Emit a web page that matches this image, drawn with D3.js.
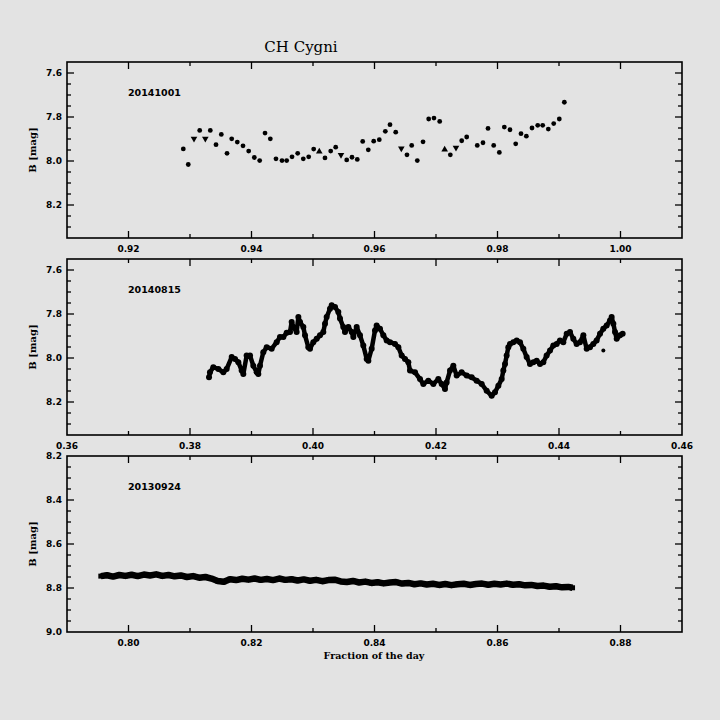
<!DOCTYPE html>
<html><head><meta charset="utf-8">
<script src="https://cdn.jsdelivr.net/npm/d3@7"></script>
<style>html,body{margin:0;padding:0;background:#e3e3e3;} svg{display:block}</style>
</head><body>
<script>
// ---------- data ----------
const title = "CH Cygni";
const xTitle = "Fraction of the day";
const yTitle = "B [mag]";
const dates = ["20141001", "20140815", "20130924"];
const xDomains = [[0.91, 1.01], [0.36, 0.46], [0.79, 0.89]];
const yDomains = [[7.55, 8.35], [7.55, 8.35], [8.2, 9.0]];
const xTickLabels = [[0.92, 0.94, 0.96, 0.98, 1.00], [0.36, 0.38, 0.40, 0.42, 0.44, 0.46], [0.80, 0.82, 0.84, 0.86, 0.88]];
const yTickLabels = [[7.6, 7.8, 8.0, 8.2], [7.6, 7.8, 8.0, 8.2], [8.2, 8.4, 8.6, 8.8, 9.0]];

// 20141001
const t1 = [0.92891,0.92972,0.93065,0.93158,0.93249,0.93330,0.93423,0.93509,0.93602,0.93678,0.93769,0.93862,0.93954,0.94046,0.94133,0.94220,0.94306,0.94398,0.94496,0.94572,0.94659,0.94751,0.94842,0.94930,0.95011,0.95102,0.95195,0.95288,0.95369,0.95455,0.95548,0.95634,0.95720,0.95808,0.95899,
0.95987,0.96078,0.96176,0.96252,0.96345,0.96436,0.96528,0.96605,0.96696,0.96789,0.96881,0.96967,0.97060,0.97141,0.97233,0.97325,0.97418,0.97499,0.97671,0.97764,0.97846,0.97938,0.98030,0.98111,0.98203,0.98296,0.98382,0.98469,0.98561,0.98654,0.98735,0.98826,0.98914,0.99005,0.99087];
const m1 = [7.945,8.016,7.899,7.861,7.899,7.861,7.926,7.879,7.965,7.899,7.914,7.931,7.955,7.984,7.998,7.873,7.899,7.990,7.998,7.998,7.981,7.965,7.990,7.981,7.946,7.957,7.986,7.955,7.937,7.972,7.995,7.983,7.993,7.911,7.949,
7.910,7.903,7.865,7.835,7.869,7.943,7.972,7.929,7.998,7.913,7.809,7.805,7.820,7.948,7.972,7.939,7.908,7.891,7.929,7.917,7.852,7.929,7.961,7.846,7.858,7.922,7.876,7.887,7.850,7.838,7.838,7.855,7.830,7.809,7.733];
const k1 = "oovovoooooooooooooooooooo^ooovoooooooooovooooooo^ovooooooooooooooooooo";

// 20140815
const t2 = [0.38309,0.38325,0.38379,0.38461,0.38542,0.38596,0.38678,0.38732,0.38786,0.38840,0.38867,0.38921,0.38976,0.39030,0.39084,0.39111,0.39138,0.39192,0.39247,0.39328,0.39409,0.39463,0.39518,0.39572,0.39626,0.39653,0.39680,0.39734,0.39762,0.39789,0.39843,0.39870,0.39924,0.39951,0.40005,0.40060,0.40114,0.40168,0.40195,0.40222,0.40276,0.40304,0.40358,0.40412,0.40439,0.40493,0.40520,0.40575,0.40629,0.40656,0.40710,0.40764,0.40818,0.40873,0.40900,0.40954,0.41008,0.41035,0.41089,0.41144,0.41198,0.41252,
0.41333,0.41388,0.41442,0.41496,0.41550,0.41577,0.41659,0.41740,0.41794,0.41875,0.41957,0.42038,0.42092,0.42146,0.42173,0.42228,0.42282,0.42336,0.42417,0.42499,0.42580,0.42661,0.42743,0.42824,0.42905,0.42959,0.43014,0.43068,0.43095,0.43122,0.43149,0.43176,0.43203,0.43257,0.43312,0.43366,0.43420,0.43474,0.43528,0.43583,0.43637,0.43691,0.43745,0.43799,0.43854,0.43908,0.43962,0.44016,0.44070,0.44125,0.44179,0.44233,0.44287,0.44341,0.44396,0.44450,0.44504,0.44558,0.44612,0.44667,0.44721,0.44775,0.44829,0.44856,0.44884,0.44911,0.44938,0.44992,0.45035];
const m2 = [8.088,8.065,8.042,8.050,8.065,8.050,7.996,8.004,8.019,8.057,8.073,7.989,7.989,8.035,8.065,8.073,8.035,7.974,7.951,7.958,7.928,7.905,7.905,7.885,7.882,7.836,7.859,7.882,7.814,7.836,7.859,7.897,7.951,7.958,7.928,7.913,7.897,7.882,7.844,7.814,7.776,7.760,7.768,7.791,7.821,7.859,7.882,7.859,7.882,7.905,7.859,7.897,7.943,8.004,8.012,7.958,7.875,7.852,7.867,7.897,7.920,7.928,
7.936,7.951,7.989,8.004,8.019,8.057,8.065,8.096,8.118,8.103,8.118,8.096,8.118,8.141,8.111,8.057,8.035,8.080,8.065,8.080,8.088,8.103,8.118,8.149,8.172,8.156,8.126,8.096,8.057,8.027,7.989,7.951,7.936,7.928,7.920,7.928,7.958,7.996,8.027,8.019,8.012,8.027,8.019,7.989,7.966,7.943,7.936,7.920,7.928,7.890,7.882,7.913,7.936,7.928,7.897,7.958,7.951,7.936,7.920,7.890,7.867,7.852,7.829,7.814,7.844,7.882,7.913,7.897,7.890];
const t2extra = [0.44721];
const m2extra = [7.966];

// 20130924
const t3 = [0.7955,0.7965,0.7975,0.7985,0.7995,0.8005,0.8015,0.8025,0.8035,0.8045,0.8055,0.8065,0.8075,0.8085,0.8095,0.8105,0.8115,0.8125,0.8135,0.8145,0.8155,0.8165,0.8175,0.8185,0.8195,0.8205,0.8215,0.8225,0.8235,0.8245,0.8255,0.8265,0.8275,0.8285,0.8295,0.8305,0.8315,0.8325,0.8335,0.8345,0.8355,0.8365,0.8375,0.8385,0.8395,0.8405,0.8415,0.8425,0.8435,0.8445,0.8455,0.8465,0.8475,0.8485,0.8495,0.8505,0.8515,0.8525,0.8535,0.8545,0.8555,0.8565,0.8575,0.8585,0.8595,0.8605,0.8615,0.8625,0.8635,0.8645,0.8655,0.8665,0.8675,0.8685,0.8695,0.8705,0.8715,0.8722];
const m3 = [8.746,8.742,8.748,8.741,8.745,8.740,8.746,8.739,8.743,8.738,8.745,8.741,8.747,8.743,8.750,8.746,8.753,8.750,8.757,8.768,8.772,8.760,8.764,8.758,8.762,8.757,8.763,8.759,8.764,8.757,8.763,8.760,8.766,8.761,8.767,8.763,8.769,8.764,8.762,8.770,8.773,8.768,8.775,8.771,8.777,8.774,8.779,8.775,8.773,8.780,8.777,8.783,8.779,8.784,8.781,8.786,8.782,8.787,8.783,8.781,8.786,8.782,8.780,8.785,8.781,8.784,8.780,8.785,8.783,8.788,8.786,8.791,8.789,8.794,8.792,8.797,8.795,8.799];

// ---------- layout ----------
const W = 720, H = 720;
const L = 67, R = 682, PH = 176;
const tops = [62, 259, 456];
const bg = "#e3e3e3";

const svg = d3.select("body").append("svg").attr("width", W).attr("height", H);
svg.append("rect").attr("width", W).attr("height", H).attr("fill", bg);

svg.append("text").attr("x", 301).attr("y", 52).attr("text-anchor", "middle")
  .attr("font-family", "DejaVu Serif").attr("font-size", 15).attr("fill", "#000")
  .attr("xml:space", "preserve").text(title);

const series = [
  {t: t1, m: m1, kind: "sparse"},
  {t: t2, m: m2, kind: "dense"},
  {t: t3, m: m3, kind: "band"}
];

series.forEach((s, i) => {
  const top = tops[i];
  const x = d3.scaleLinear().domain(xDomains[i]).range([L, R]);
  const y = d3.scaleLinear().domain(yDomains[i]).range([top, top + PH]);
  const g = svg.append("g");

  const xMinor = d3.range(Math.round(xDomains[i][0] * 100) + 1, Math.round(xDomains[i][1] * 100)).map(v => v / 100);
  const yMinor = d3.range(Math.round(yDomains[i][0] * 20), Math.round(yDomains[i][1] * 20) + 1).map(v => v / 20);
  const isMajorX = v => xTickLabels[i].some(t => Math.abs(t - v) < 1e-6);
  const isMajorY = v => yTickLabels[i].some(t => Math.abs(t - v) < 1e-6);
  const tk = g.append("g").attr("stroke", "#000").attr("stroke-width", 1.3);
  xMinor.forEach(v => {
    const len = isMajorX(v) ? 7 : 4;
    const px = x(v);
    tk.append("line").attr("x1", px).attr("x2", px).attr("y1", top + PH).attr("y2", top + PH - len);
    tk.append("line").attr("x1", px).attr("x2", px).attr("y1", top).attr("y2", top + len);
  });
  yMinor.forEach(v => {
    if (v <= yDomains[i][0] + 1e-6 || v >= yDomains[i][1] - 1e-6) return;
    const len = isMajorY(v) ? 7 : 4;
    const py = y(v);
    tk.append("line").attr("y1", py).attr("y2", py).attr("x1", L).attr("x2", L + len);
    tk.append("line").attr("y1", py).attr("y2", py).attr("x1", R).attr("x2", R - len);
  });

  g.append("rect").attr("x", L).attr("y", top).attr("width", R - L).attr("height", PH)
    .attr("fill", "none").attr("stroke", "#000").attr("stroke-width", 1.6);

  g.selectAll("text.xt").data(xTickLabels[i]).enter().append("text")
    .attr("x", d => x(d)).attr("y", top + PH + 14).attr("text-anchor", "middle")
    .attr("font-family", "DejaVu Sans").attr("font-weight", "bold").attr("font-size", 9)
    .text(d => d.toFixed(2));
  g.selectAll("text.yt").data(yTickLabels[i]).enter().append("text")
    .attr("x", L - 5).attr("y", d => y(d) + 3.3).attr("text-anchor", "end")
    .attr("font-family", "DejaVu Sans").attr("font-weight", "bold").attr("font-size", 9)
    .text(d => d.toFixed(1));

  g.append("text").attr("transform", `translate(36,${top + PH / 2}) rotate(-90)`)
    .attr("text-anchor", "middle").attr("font-family", "DejaVu Serif").attr("font-weight", "bold")
    .attr("font-size", 10).text(yTitle);

  g.append("text").attr("x", 128).attr("y", top + 34).attr("font-family", "DejaVu Sans")
    .attr("font-weight", "bold").attr("font-size", 9.5).text(dates[i]);

  const pts = s.t.map((t, j) => ({t, m: s.m[j], k: s.kind === "sparse" ? k1[j] : "o"}));
  if (s.kind === "sparse") {
    pts.forEach(p => {
      if (p.k === "o") {
        g.append("circle").attr("cx", x(p.t)).attr("cy", y(p.m)).attr("r", 2.4).attr("fill", "#000");
      } else {
        g.append("path").attr("d", d3.symbol(d3.symbolTriangle, 19)())
          .attr("transform", `translate(${x(p.t)},${y(p.m)}) rotate(${p.k === "v" ? 180 : 0})`)
          .attr("fill", "#000");
      }
    });
  } else if (s.kind === "dense") {
    const line = d3.line().x(d => x(d.t)).y(d => y(d.m));
    g.append("path").attr("d", line(pts)).attr("fill", "none").attr("stroke", "#000")
      .attr("stroke-width", 4.5).attr("stroke-linejoin", "round").attr("stroke-linecap", "round");
    g.selectAll("circle.d").data(pts).enter().append("circle")
      .attr("cx", d => x(d.t)).attr("cy", d => y(d.m)).attr("r", 3).attr("fill", "#000");
    t2extra.forEach((t, j) => g.append("circle").attr("cx", x(t)).attr("cy", y(m2extra[j])).attr("r", 2).attr("fill", "#000"));
  } else {
    const line = d3.line().x(d => x(d.t)).y(d => y(d.m));
    g.append("path").attr("d", line(pts)).attr("fill", "none").attr("stroke", "#000")
      .attr("stroke-width", 6.5).attr("stroke-linejoin", "round");
    g.selectAll("rect.d").data(pts).enter().append("rect")
      .attr("x", d => x(d.t) - 2.5).attr("y", d => y(d.m) - 2.5).attr("width", 5).attr("height", 5).attr("fill", "#000");
  }
});

svg.append("text").attr("x", 374).attr("y", 659).attr("text-anchor", "middle")
  .attr("font-family", "DejaVu Serif").attr("font-weight", "bold").attr("font-size", 9.5).text(xTitle);
</script>
</body></html>
